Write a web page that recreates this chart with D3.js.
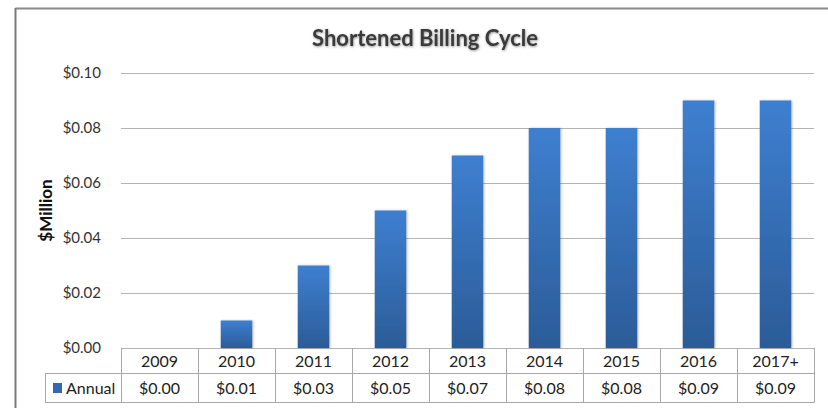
<!DOCTYPE html>
<html>
<head>
<meta charset="utf-8">
<script src="https://cdn.jsdelivr.net/npm/d3@7"></script>
<style>
  html, body { margin: 0; padding: 0; background: #fff; }
  svg { display: block; font-family: Lato, "Open Sans", sans-serif; }
</style>
</head>
<body>
<svg id="chart" width="828" height="408"></svg>
<script>
// Chart data
const categories = ["2009", "2010", "2011", "2012", "2013", "2014", "2015", "2016", "2017+"];
const annualValues = [0.00, 0.01, 0.03, 0.05, 0.07, 0.08, 0.08, 0.09, 0.09];
const yTicks = [0, 0.02, 0.04, 0.06, 0.08, 0.10];
const seriesName = "Annual";
const chartTitle = "Shortened Billing Cycle";
const yAxisTitle = "$Million";

const svg = d3.select("#chart");
const W = 828, H = 408;

const plot = { left: 121, right: 814, top: 73, bottom: 348 };
const tableRow1 = 373, tableBottom = 402, legendLeft = 45;

// Gradient for bars
const defs = svg.append("defs");
const grad = defs.append("linearGradient").attr("id", "barGrad")
  .attr("x1", 0).attr("y1", 0).attr("x2", 0).attr("y2", 1);
grad.append("stop").attr("offset", "0%").attr("stop-color", "#3e7fd0");
grad.append("stop").attr("offset", "100%").attr("stop-color", "#2b5c98");
const shadow = defs.append("filter").attr("id", "barShadow")
  .attr("x", "-20%").attr("y", "-5%").attr("width", "140%").attr("height", "110%");
shadow.append("feDropShadow").attr("dx", 1).attr("dy", 0).attr("stdDeviation", 1.2)
  .attr("flood-color", "#000").attr("flood-opacity", 0.25);
const titleShadow = defs.append("filter").attr("id", "titleShadow");
titleShadow.append("feDropShadow").attr("dx", 0.6).attr("dy", 0.8).attr("stdDeviation", 0.8)
  .attr("flood-color", "#000").attr("flood-opacity", 0.45);

// Outer frame
svg.append("line").attr("x1", 15.5).attr("x2", W).attr("y1", 8.5).attr("y2", 8.5)
  .attr("stroke", "#8a8a8a").attr("stroke-width", 2);
svg.append("line").attr("x1", 15.5).attr("x2", 15.5).attr("y1", 8).attr("y2", H)
  .attr("stroke", "#7a7a7a").attr("stroke-width", 2);

// Scales
const x = d3.scaleBand().domain(categories).range([plot.left, plot.right]).paddingInner(0.59).paddingOuter(0.295);
const xCell = d3.scaleBand().domain(categories).range([plot.left, plot.right]);
const y = d3.scaleLinear().domain([0, 0.10]).range([plot.bottom, plot.top]);

// Gridlines
svg.append("g").selectAll("line").data(yTicks).join("line")
  .attr("x1", plot.left).attr("x2", plot.right)
  .attr("y1", d => Math.round(y(d)) + 0.5).attr("y2", d => Math.round(y(d)) + 0.5)
  .attr("stroke", "#b4b4b4").attr("stroke-width", 1);

// Y axis labels
const yAxis = d3.axisLeft(y).tickValues(yTicks).tickFormat(d => "$" + d.toFixed(2)).tickSize(0).tickPadding(20);
const yg = svg.append("g").attr("transform", `translate(${plot.left},0)`).call(yAxis);
yg.select(".domain").remove();
yg.selectAll("text").attr("font-size", 15).attr("fill", "#333").attr("font-family", "Lato, sans-serif");

// Bars
svg.append("g").selectAll("rect").data(categories.map((c, i) => ({ c, v: annualValues[i] })))
  .join("rect")
  .attr("x", d => x(d.c)).attr("width", x.bandwidth())
  .attr("y", d => y(d.v)).attr("height", d => y(0) - y(d.v))
  .attr("fill", "url(#barGrad)")
  .attr("filter", "url(#barShadow)");

// Data table
const tg = svg.append("g");
const gridColor = "#a8a8a8";
tg.append("line").attr("x1", legendLeft).attr("x2", plot.right).attr("y1", tableRow1 + 0.5).attr("y2", tableRow1 + 0.5)
  .attr("stroke", gridColor);
tg.append("line").attr("x1", legendLeft).attr("x2", plot.right).attr("y1", tableBottom + 0.5).attr("y2", tableBottom + 0.5)
  .attr("stroke", gridColor);
const vlines = [plot.left].concat(categories.map(c => xCell(c) + xCell.bandwidth()));
tg.selectAll("line.v").data(vlines).join("line").attr("class", "v")
  .attr("x1", d => Math.round(d) + 0.5).attr("x2", d => Math.round(d) + 0.5)
  .attr("y1", plot.bottom).attr("y2", tableBottom + 0.5)
  .attr("stroke", gridColor);
tg.append("line").attr("x1", legendLeft + 0.5).attr("x2", legendLeft + 0.5)
  .attr("y1", tableRow1).attr("y2", tableBottom + 0.5).attr("stroke", gridColor);

// Category labels
tg.selectAll("text.cat").data(categories).join("text").attr("class", "cat")
  .attr("x", d => xCell(d) + xCell.bandwidth() / 2).attr("y", 366.5)
  .attr("text-anchor", "middle").attr("font-size", 16).attr("fill", "#222")
  .text(d => d);
// Value labels
tg.selectAll("text.val").data(categories.map((c, i) => ({ c, v: annualValues[i] }))).join("text").attr("class", "val")
  .attr("x", d => xCell(d.c) + xCell.bandwidth() / 2).attr("y", 394)
  .attr("text-anchor", "middle").attr("font-size", 16).attr("fill", "#222")
  .text(d => "$" + d.v.toFixed(2));
// Legend key
tg.append("rect").attr("x", 53).attr("y", 383).attr("width", 9).attr("height", 10).attr("fill", "#3468b0");
tg.append("text").attr("x", 66).attr("y", 394).attr("font-size", 16).attr("fill", "#222").text(seriesName);

// Title
svg.append("text").attr("x", 425).attr("y", 46).attr("text-anchor", "middle")
  .attr("font-size", 22).attr("font-weight", "bold").attr("fill", "#3a3a3a")
  .attr("filter", "url(#titleShadow)")
  .text(chartTitle);

// Y axis title
svg.append("text").attr("transform", `translate(52,${(plot.top + plot.bottom) / 2}) rotate(-90)`)
  .attr("text-anchor", "middle").attr("font-size", 17).attr("font-weight", "bold").attr("fill", "#111")
  .text(yAxisTitle);
</script>
</body>
</html>
